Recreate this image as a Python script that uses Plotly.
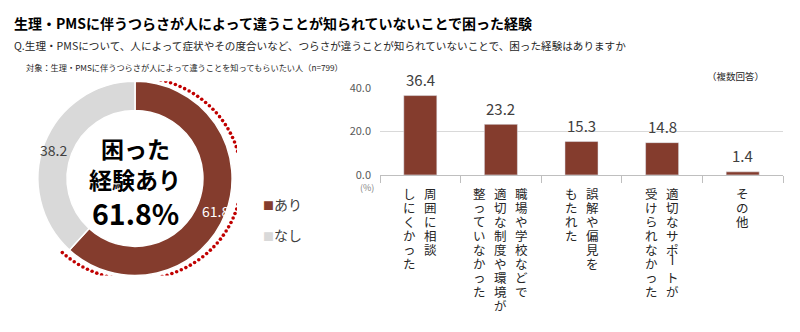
import numpy as np
import plotly.graph_objects as go

# ---------------- data ----------------
title_text = "生理・PMSに伴うつらさが人によって違うことが知られていないことで困った経験"
question_text = "Q.生理・PMSについて、人によって症状やその度合いなど、つらさが違うことが知られていないことで、困った経験はありますか"
note_text = "対象：生理・PMSに伴うつらさが人によって違うことを知ってもらいたい人（n=799）"
multi_note = "（複数回答）"

donut_labels = ["あり", "なし"]
donut_values = [61.8, 38.2]
center_lines = ["困った", "経験あり", "61.8%"]

bar_label_lines = [
    ["周囲に相談", "しにくかった"],
    ["職場や学校などで", "適切な制度や環境が", "整っていなかった"],
    ["誤解や偏見を", "もたれた"],
    ["適切なサポートが", "受けられなかった"],
    ["その他"],
]
bar_categories = ["".join(l) for l in bar_label_lines]
bar_values = [36.4, 23.2, 15.3, 14.8, 1.4]
y_tick_values = [0, 20, 40]
y_tick_labels = ["0.0", "20.0", "40.0"]
y_unit = "(%)"

# ---------------- style ----------------
W, H = 800, 332
FONT = "Noto Sans CJK JP"
BROWN = "#843C2D"
GRAY = "#D9D9D9"
TXT = "#404040"


def px_x(x):
    return x / W


def px_y(y):
    return 1 - y / H


fig = go.Figure()

# donut
donut_dom_x = [px_x(33), px_x(237)]
donut_dom_y = [px_y(280), px_y(76)]
fig.add_trace(go.Pie(
    labels=donut_labels, values=donut_values, hole=0.70, sort=False,
    direction="clockwise", rotation=0,
    marker=dict(colors=[BROWN, GRAY], line=dict(color="white", width=1.5)),
    textinfo="none", hoverinfo="label+value",
    domain=dict(x=donut_dom_x, y=donut_dom_y), showlegend=False,
))

# dotted red arc around the "あり" slice (drawn on hidden axes over the donut)
share = donut_values[0] / sum(donut_values) * 360
angles = np.deg2rad(np.arange(3, share + 2.5, 2.75))
arc_r = 1.045
fig.add_trace(go.Scatter(
    x=arc_r * np.sin(angles), y=arc_r * np.cos(angles), mode="markers",
    marker=dict(color="#C00000", size=3.6), xaxis="x2", yaxis="y2",
    hoverinfo="skip", showlegend=False,
))

# bars
fig.add_trace(go.Bar(
    x=bar_categories, y=bar_values, marker_color=BROWN, width=0.41,
    xaxis="x", yaxis="y", hoverinfo="x+y", showlegend=False,
))

annotations = []


def ann(text, x, y, size, color=TXT, xanchor="center", yanchor="middle", bold=False,
        xref="paper", yref="paper", **kw):
    annotations.append(dict(
        text=f"<b>{text}</b>" if bold else text, x=x, y=y, xref=xref, yref=yref,
        xanchor=xanchor, yanchor=yanchor, showarrow=False,
        font=dict(family=FONT, size=size, color=color), **kw))


# headings
ann(title_text, px_x(12), px_y(15), 14, color="#000000", xanchor="left", bold=True)
ann(question_text, px_x(12), px_y(38), 10.6, color="#262626", xanchor="left")
ann(note_text, px_x(24), px_y(61), 8.2, color="#262626", xanchor="left")
ann(multi_note, px_x(735), px_y(70), 9.5, color="#262626")

# donut centre text
for line, yy, sz in zip(center_lines, [146, 179, 214], [23, 23, 28.5]):
    ann(line, px_x(135), px_y(yy), sz, color="#000000", bold=True)

# donut value labels
ann(f"{donut_values[1]:.1f}", px_x(53), px_y(148), 14, color=TXT)
ann(f"{donut_values[0]:.1f}", px_x(215), px_y(212), 14, color="#FFFFFF")

# legend
for lab, col, yy in zip(donut_labels, [BROWN, GRAY], [205, 237]):
    ann(f"<span style='color:{col};font-size:11px'>■</span>{lab}", px_x(261), px_y(yy), 14,
        color=TXT, xanchor="left")

# bar value labels
for cat, v in zip(bar_categories, bar_values):
    ann(f"{v:.1f}", cat, v, 15, color=TXT, xref="x", yref="y", yshift=16)

# y unit
ann(y_unit, px_x(367), px_y(188), 9, color="#7F7F7F")

# vertical category labels: each column is one stacked text, columns right-to-left
PITCH_SIZE = 10.8          # sets the line pitch (1.3 x size = 14 px)
GLYPH = 12.5               # glyph size drawn inside each line
PITCH = PITCH_SIZE * 1.3
COLGAP = 21
top_y = px_y(182)


def stack(s):
    return "<br>".join(f"<span style='font-size:{GLYPH}px'>{c}</span>" for c in s)


for cat, lines in zip(bar_categories, bar_label_lines):
    n = len(lines)
    for j, line in enumerate(lines):
        xs = ((n - 1) / 2 - j) * COLGAP
        # split around long-vowel marks, which are turned upright in vertical writing
        pieces, buf = [], ""
        for ch in line:
            if ch == "ー":
                if buf:
                    pieces.append(buf)
                pieces.append(ch)
                buf = ""
            else:
                buf += ch
        if buf:
            pieces.append(buf)
        k = 0
        for piece in pieces:
            if piece == "ー":
                ann(piece, cat, top_y, GLYPH, color="#262626", xref="x",
                    yanchor="middle", xshift=xs, yshift=-PITCH * (k + 0.5) - 1,
                    textangle=90)
                k += 1
            else:
                ann(stack(piece), cat, top_y, PITCH_SIZE, color="#262626",
                    xref="x", yanchor="top", xshift=xs, yshift=-PITCH * k)
                k += len(piece)

fig.update_layout(
    width=W, height=H, margin=dict(l=0, r=0, t=0, b=0),
    paper_bgcolor="white", plot_bgcolor="white", showlegend=False,
    font=dict(family=FONT, color=TXT),
    bargap=0.59,
    xaxis=dict(
        domain=[px_x(380), px_x(783)], type="category", showticklabels=False,
        ticks="outside", tickson="boundaries", ticklen=7, tickcolor="#BFBFBF",
        showline=True, linecolor="#BFBFBF", linewidth=1, showgrid=False,
        zeroline=False, fixedrange=True,
    ),
    yaxis=dict(
        domain=[px_y(174.3), px_y(82.7)], range=[0, 40],
        tickvals=y_tick_values, ticktext=y_tick_labels,
        tickfont=dict(family=FONT, size=11, color="#595959"),
        showgrid=True, gridcolor="#D9D9D9", gridwidth=1, zeroline=False,
        showline=False, ticks="", ticklabelstandoff=8, fixedrange=True,
    ),
    xaxis2=dict(domain=donut_dom_x, range=[-1, 1], visible=False, anchor="y2",
                fixedrange=True),
    yaxis2=dict(domain=donut_dom_y, range=[-1, 1], visible=False, anchor="x2",
                fixedrange=True),
    annotations=annotations,
)

fig.write_html("out.html")
